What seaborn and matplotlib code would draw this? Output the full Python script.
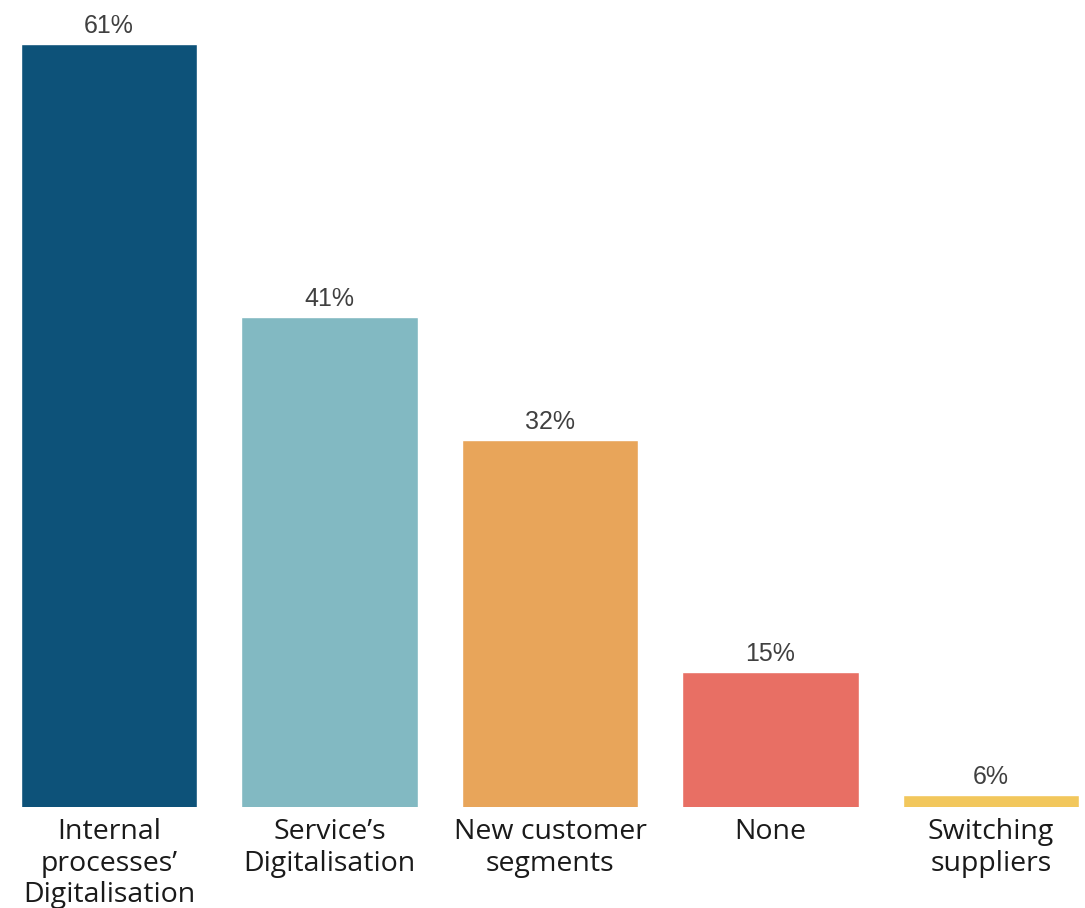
import matplotlib
matplotlib.use("Agg")
import matplotlib.pyplot as plt
import seaborn as sns
import pandas as pd

categories = [
    "Internal\nprocesses’\nDigitalisation",
    "Service’s\nDigitalisation",
    "New customer\nsegments",
    "None",
    "Switching\nsuppliers",
]
values = [61, 41, 32, 15, 6]
colors = ["#0d5279", "#82b9c2", "#e8a55a", "#e86f64", "#f2c75c"]

sns.set_theme(style="white")
plt.rcParams["font.family"] = ["Open Sans", "DejaVu Sans"]

df = pd.DataFrame({"category": categories, "value": values})

fig = plt.figure(figsize=(10.85, 9.08), dpi=100)
ax = fig.add_axes([21 / 1085, 101 / 908, (1079 - 21) / 1085, (807 - 44) / 908])

sns.barplot(data=df, x="category", y="value", hue="category",
            palette=colors, legend=False, width=0.8, saturation=1, ax=ax)

ax.set_xlim(-0.4, 4.4)
ax.set_ylim(5.1, 61)

for i, v in enumerate(values):
    ax.annotate(f"{v}%", xy=(i, v), xytext=(0, 4), textcoords="offset points",
                ha="center", va="bottom", fontsize=18, color="#404040",
                family="Liberation Sans", annotation_clip=False)

ax.set_xlabel("")
ax.set_ylabel("")
ax.set_yticks([])
ax.tick_params(axis="x", length=0, pad=8)
ax.set_xticks(range(len(categories)))
ax.set_xticklabels(categories, fontsize=20.5, color="#1a1a1a", linespacing=1.17)
for s in ax.spines.values():
    s.set_visible(False)

fig.savefig("out.png", dpi=100)
